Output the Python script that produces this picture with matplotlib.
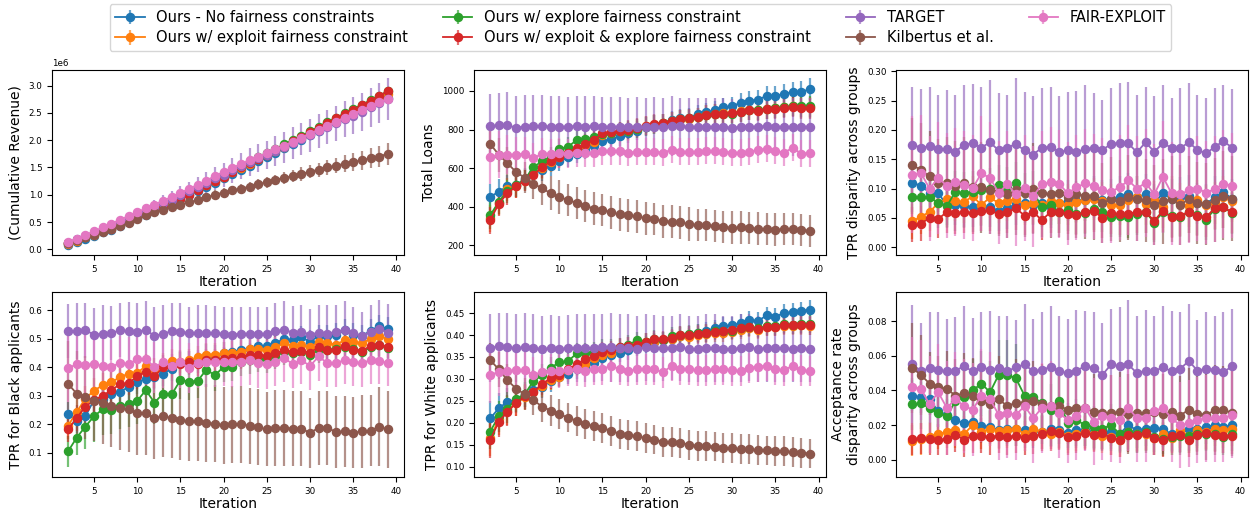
import numpy as np
import matplotlib.pyplot as plt
from matplotlib.colors import to_rgba

iterations = list(range(2, 40))

series = ["nf", "exl", "exr", "both", "tgt", "kil", "fe"]
labels = ["Ours - No fairness constraints",
          "Ours w/ exploit fairness constraint",
          "Ours w/ explore fairness constraint",
          "Ours w/ exploit & explore fairness constraint",
          "TARGET",
          "Kilbertus et al.",
          "FAIR-EXPLOIT"]
colors = ["tab:blue", "tab:orange", "tab:green", "tab:red",
          "tab:purple", "tab:brown", "tab:pink"]

# cumulative revenue, in millions
rev = {
    "nf": [0.08, 0.14, 0.19, 0.25, 0.31, 0.36, 0.43, 0.50, 0.57, 0.63,
           0.70, 0.77, 0.84, 0.92, 0.99, 1.07, 1.14, 1.22, 1.30, 1.38,
           1.46, 1.53, 1.61, 1.69, 1.76, 1.85, 1.93, 2.00, 2.09, 2.17,
           2.25, 2.34, 2.42, 2.50, 2.58, 2.64, 2.71, 2.78],
    "exl": [0.10, 0.16, 0.22, 0.27, 0.33, 0.38, 0.45, 0.52, 0.59, 0.66,
            0.73, 0.80, 0.87, 0.94, 1.02, 1.10, 1.17, 1.25, 1.33, 1.41,
            1.49, 1.57, 1.65, 1.72, 1.80, 1.88, 1.96, 2.04, 2.12, 2.20,
            2.29, 2.37, 2.45, 2.53, 2.61, 2.69, 2.77, 2.85],
    "exr": [0.11, 0.17, 0.23, 0.29, 0.34, 0.40, 0.47, 0.54, 0.61, 0.68,
            0.75, 0.82, 0.89, 0.97, 1.05, 1.13, 1.21, 1.29, 1.37, 1.45,
            1.53, 1.61, 1.69, 1.76, 1.84, 1.92, 2.00, 2.08, 2.16, 2.24,
            2.33, 2.41, 2.49, 2.57, 2.65, 2.73, 2.81, 2.90],
    "both": [0.11, 0.17, 0.22, 0.28, 0.33, 0.38, 0.46, 0.53, 0.60, 0.67,
             0.74, 0.81, 0.88, 0.93, 1.00, 1.09, 1.17, 1.25, 1.33, 1.42,
             1.50, 1.58, 1.66, 1.73, 1.81, 1.89, 1.98, 2.06, 2.14, 2.23,
             2.32, 2.40, 2.48, 2.56, 2.64, 2.72, 2.81, 2.90],
    "tgt": [0.12, 0.18, 0.24, 0.30, 0.36, 0.42, 0.49, 0.56, 0.63, 0.70,
            0.77, 0.84, 0.91, 0.99, 1.06, 1.14, 1.22, 1.30, 1.37, 1.45,
            1.52, 1.60, 1.67, 1.73, 1.80, 1.87, 1.95, 2.02, 2.09, 2.16,
            2.24, 2.31, 2.38, 2.45, 2.52, 2.60, 2.68, 2.75],
    "kil": [0.12, 0.17, 0.22, 0.27, 0.32, 0.37, 0.42, 0.48, 0.55, 0.62,
            0.68, 0.72, 0.77, 0.82, 0.86, 0.90, 0.95, 1.00, 1.04, 1.08,
            1.11, 1.15, 1.19, 1.23, 1.27, 1.31, 1.34, 1.38, 1.42, 1.46,
            1.50, 1.53, 1.57, 1.60, 1.63, 1.67, 1.70, 1.75],
    "fe": [0.13, 0.19, 0.26, 0.33, 0.40, 0.47, 0.54, 0.61, 0.68, 0.75,
           0.82, 0.89, 0.96, 1.03, 1.11, 1.18, 1.26, 1.34, 1.42, 1.49,
           1.56, 1.63, 1.70, 1.76, 1.83, 1.90, 1.97, 2.04, 2.12, 2.19,
           2.26, 2.34, 2.41, 2.48, 2.55, 2.62, 2.69, 2.75],
}
rev_err_ours = [0.03, 0.03, 0.03, 0.03, 0.03, 0.03, 0.03, 0.04, 0.04, 0.04,
                0.04, 0.04, 0.04, 0.04, 0.04, 0.05, 0.05, 0.05, 0.05, 0.05,
                0.05, 0.05, 0.05, 0.05, 0.05, 0.06, 0.06, 0.06, 0.06, 0.06,
                0.06, 0.06, 0.06, 0.06, 0.06, 0.06, 0.07, 0.07]
rev_err = {
    "nf": rev_err_ours, "exl": rev_err_ours, "exr": rev_err_ours, "both": rev_err_ours,
    "tgt": [0.03, 0.04, 0.05, 0.06, 0.07, 0.08, 0.09, 0.11, 0.12, 0.13,
            0.14, 0.15, 0.16, 0.17, 0.18, 0.19, 0.20, 0.21, 0.22, 0.23,
            0.24, 0.25, 0.26, 0.26, 0.27, 0.28, 0.29, 0.30, 0.30, 0.31,
            0.32, 0.32, 0.33, 0.34, 0.35, 0.36, 0.37, 0.38],
    "kil": [0.02, 0.02, 0.03, 0.03, 0.03, 0.04, 0.04, 0.04, 0.05, 0.05,
            0.05, 0.06, 0.06, 0.06, 0.07, 0.07, 0.07, 0.08, 0.08, 0.08,
            0.09, 0.09, 0.10, 0.10, 0.10, 0.11, 0.11, 0.12, 0.12, 0.13,
            0.13, 0.14, 0.15, 0.16, 0.17, 0.18, 0.19, 0.20],
    "fe": [0.03, 0.03, 0.03, 0.03, 0.04, 0.04, 0.04, 0.04, 0.04, 0.04,
           0.05, 0.05, 0.05, 0.05, 0.05, 0.05, 0.05, 0.06, 0.06, 0.06,
           0.06, 0.06, 0.06, 0.06, 0.06, 0.07, 0.07, 0.07, 0.07, 0.07,
           0.07, 0.07, 0.07, 0.08, 0.08, 0.08, 0.08, 0.08],
}

loans = {
    "nf": [450, 478, 505, 510, 545, 575, 590, 610, 635, 655,
           675, 695, 715, 740, 750, 765, 780, 795, 815, 825,
           835, 850, 860, 862, 880, 890, 900, 915, 920, 940,
           950, 955, 975, 975, 985, 995, 995, 1010],
    "exl": [340, 420, 490, 505, 535, 570, 600, 630, 660, 680,
            700, 720, 735, 770, 780, 790, 790, 805, 820, 825,
            835, 845, 855, 855, 865, 875, 880, 885, 885, 895,
            900, 900, 905, 910, 915, 920, 915, 915],
    "exr": [355, 425, 480, 510, 540, 605, 635, 660, 700, 710,
            745, 750, 760, 775, 780, 790, 795, 805, 815, 825,
            835, 845, 855, 860, 865, 875, 880, 880, 880, 890,
            900, 900, 905, 910, 915, 920, 920, 920],
    "both": [330, 415, 470, 505, 535, 565, 605, 635, 655, 680,
             705, 725, 745, 780, 785, 790, 800, 810, 820, 830,
             835, 845, 855, 860, 865, 875, 880, 880, 885, 890,
             900, 895, 905, 905, 910, 915, 910, 910],
    "tgt": [818, 822, 822, 810, 815, 818, 818, 815, 815, 815,
            818, 815, 818, 815, 815, 815, 815, 815, 812, 815,
            815, 818, 818, 815, 815, 815, 815, 815, 808, 815,
            815, 815, 818, 815, 815, 815, 815, 815],
    "kil": [725, 670, 625, 580, 550, 520, 495, 470, 450, 435,
            420, 405, 390, 385, 370, 360, 355, 350, 340, 335,
            325, 322, 318, 310, 305, 305, 300, 295, 290, 292,
            290, 285, 285, 280, 283, 283, 280, 275],
    "fe": [655, 670, 670, 670, 675, 650, 675, 675, 680, 675,
           680, 680, 680, 690, 690, 690, 680, 685, 685, 685,
           680, 695, 685, 685, 685, 690, 690, 685, 680, 680,
           685, 695, 700, 690, 680, 705, 675, 678],
}
loans_err_ours = [70, 65, 60, 58, 55, 55, 55, 52, 52, 50,
                  50, 50, 50, 48, 48, 48, 48, 48, 48, 48,
                  48, 48, 48, 48, 48, 50, 50, 50, 50, 50,
                  50, 50, 52, 52, 52, 52, 55, 55]
loans_err = {
    "nf": loans_err_ours, "exl": loans_err_ours, "exr": loans_err_ours, "both": loans_err_ours,
    "tgt": [168, 170, 175, 165, 165, 162, 162, 158, 158, 155,
            155, 160, 158, 152, 155, 155, 150, 152, 150, 155,
            150, 155, 148, 150, 150, 150, 150, 150, 150, 150,
            150, 150, 150, 150, 150, 150, 150, 150],
    "kil": [90, 88, 85, 82, 80, 82, 85, 88, 86, 85,
            84, 82, 85, 83, 85, 84, 86, 85, 86, 84,
            85, 84, 85, 86, 82, 85, 84, 85, 86, 85,
            84, 85, 83, 85, 84, 84, 82, 82],
    "fe": [140, 120, 100, 90, 85, 80, 80, 78, 78, 75,
           75, 75, 75, 72, 72, 72, 70, 70, 70, 70,
           70, 70, 70, 70, 70, 70, 70, 70, 70, 70,
           70, 70, 70, 70, 70, 70, 70, 70],
}

tpr_gap = {
    "nf": [0.110, 0.105, 0.093, 0.092, 0.072, 0.072, 0.070, 0.069, 0.070, 0.069,
           0.062, 0.066, 0.074, 0.075, 0.072, 0.075, 0.068, 0.075, 0.079, 0.078,
           0.081, 0.085, 0.080, 0.082, 0.086, 0.090, 0.085, 0.090, 0.075, 0.092,
           0.082, 0.085, 0.088, 0.075, 0.074, 0.085, 0.095, 0.082],
    "exl": [0.044, 0.052, 0.060, 0.075, 0.082, 0.079, 0.077, 0.087, 0.072, 0.085,
            0.075, 0.079, 0.082, 0.072, 0.075, 0.072, 0.079, 0.075, 0.072, 0.077,
            0.080, 0.082, 0.078, 0.072, 0.072, 0.080, 0.085, 0.073, 0.080, 0.068,
            0.087, 0.075, 0.070, 0.080, 0.072, 0.075, 0.085, 0.078],
    "exr": [0.086, 0.085, 0.086, 0.075, 0.070, 0.095, 0.092, 0.095, 0.098, 0.100,
            0.106, 0.102, 0.110, 0.093, 0.095, 0.068, 0.072, 0.060, 0.063, 0.057,
            0.058, 0.065, 0.060, 0.052, 0.053, 0.052, 0.056, 0.060, 0.042, 0.060,
            0.053, 0.052, 0.060, 0.055, 0.047, 0.065, 0.068, 0.058],
    "both": [0.038, 0.040, 0.050, 0.048, 0.060, 0.058, 0.060, 0.058, 0.062, 0.063,
             0.056, 0.060, 0.066, 0.054, 0.060, 0.046, 0.060, 0.060, 0.057, 0.055,
             0.060, 0.062, 0.050, 0.058, 0.056, 0.057, 0.060, 0.060, 0.045, 0.062,
             0.051, 0.054, 0.060, 0.054, 0.051, 0.067, 0.068, 0.060],
    "tgt": [0.175, 0.170, 0.172, 0.167, 0.168, 0.163, 0.175, 0.177, 0.170, 0.179,
            0.165, 0.170, 0.176, 0.165, 0.158, 0.170, 0.171, 0.163, 0.165, 0.163,
            0.167, 0.170, 0.166, 0.176, 0.178, 0.177, 0.162, 0.179, 0.163, 0.177,
            0.170, 0.169, 0.179, 0.166, 0.160, 0.171, 0.181, 0.170],
    "kil": [0.140, 0.132, 0.121, 0.109, 0.110, 0.105, 0.110, 0.102, 0.102, 0.098,
            0.095, 0.090, 0.097, 0.092, 0.100, 0.093, 0.090, 0.093, 0.085, 0.090,
            0.088, 0.088, 0.075, 0.082, 0.078, 0.085, 0.082, 0.080, 0.072, 0.078,
            0.082, 0.072, 0.082, 0.075, 0.073, 0.080, 0.088, 0.083],
    "fe": [0.124, 0.127, 0.100, 0.118, 0.105, 0.111, 0.106, 0.101, 0.126, 0.118,
           0.093, 0.107, 0.090, 0.101, 0.087, 0.107, 0.111, 0.108, 0.092, 0.102,
           0.109, 0.104, 0.097, 0.095, 0.102, 0.114, 0.100, 0.110, 0.090, 0.120,
           0.092, 0.090, 0.097, 0.100, 0.093, 0.099, 0.108, 0.105],
}
tpr_gap_err_ours = [0.030, 0.030, 0.032, 0.032, 0.035, 0.035, 0.036, 0.035, 0.034, 0.035,
                    0.034, 0.035, 0.036, 0.034, 0.035, 0.033, 0.035, 0.036, 0.035, 0.035,
                    0.036, 0.036, 0.034, 0.035, 0.035, 0.036, 0.036, 0.035, 0.033, 0.036,
                    0.035, 0.035, 0.036, 0.035, 0.034, 0.036, 0.036, 0.035]
tpr_gap_err = {
    "nf": tpr_gap_err_ours, "exl": tpr_gap_err_ours, "exr": tpr_gap_err_ours, "both": tpr_gap_err_ours,
    "tgt": [0.099, 0.100, 0.101, 0.092, 0.100, 0.097, 0.101, 0.101, 0.103, 0.107,
            0.099, 0.090, 0.112, 0.100, 0.100, 0.101, 0.103, 0.095, 0.100, 0.103,
            0.110, 0.094, 0.086, 0.095, 0.102, 0.105, 0.098, 0.094, 0.095, 0.100,
            0.085, 0.103, 0.102, 0.094, 0.095, 0.101, 0.095, 0.100],
    "kil": [0.080, 0.080, 0.078, 0.076, 0.078, 0.077, 0.078, 0.076, 0.077, 0.075,
            0.076, 0.075, 0.076, 0.075, 0.077, 0.075, 0.074, 0.075, 0.073, 0.075,
            0.074, 0.075, 0.068, 0.072, 0.070, 0.073, 0.072, 0.071, 0.068, 0.072,
            0.074, 0.068, 0.073, 0.070, 0.070, 0.072, 0.076, 0.073],
    "fe": [0.100, 0.098, 0.090, 0.095, 0.090, 0.092, 0.092, 0.090, 0.098, 0.095,
           0.088, 0.092, 0.088, 0.090, 0.086, 0.092, 0.094, 0.092, 0.088, 0.090,
           0.092, 0.090, 0.090, 0.088, 0.090, 0.094, 0.090, 0.092, 0.086, 0.095,
           0.088, 0.086, 0.090, 0.090, 0.088, 0.090, 0.092, 0.090],
}

tpr_black = {
    "nf": [0.235, 0.213, 0.228, 0.285, 0.288, 0.305, 0.315, 0.330, 0.348, 0.360,
           0.365, 0.378, 0.395, 0.415, 0.415, 0.420, 0.440, 0.440, 0.450, 0.455,
           0.460, 0.465, 0.475, 0.475, 0.485, 0.500, 0.495, 0.505, 0.490, 0.510,
           0.510, 0.515, 0.530, 0.515, 0.510, 0.528, 0.545, 0.535],
    "exl": [0.195, 0.243, 0.290, 0.318, 0.337, 0.348, 0.365, 0.378, 0.380, 0.405,
            0.390, 0.410, 0.422, 0.420, 0.425, 0.435, 0.445, 0.445, 0.450, 0.452,
            0.455, 0.465, 0.465, 0.460, 0.470, 0.485, 0.475, 0.480, 0.470, 0.490,
            0.485, 0.480, 0.495, 0.488, 0.485, 0.500, 0.510, 0.500],
    "exr": [0.105, 0.153, 0.192, 0.228, 0.253, 0.250, 0.265, 0.270, 0.282, 0.320,
            0.276, 0.308, 0.305, 0.355, 0.350, 0.352, 0.392, 0.372, 0.402, 0.402,
            0.420, 0.425, 0.430, 0.428, 0.440, 0.455, 0.450, 0.455, 0.445, 0.460,
            0.460, 0.465, 0.470, 0.465, 0.455, 0.470, 0.478, 0.468],
    "both": [0.182, 0.222, 0.262, 0.285, 0.300, 0.320, 0.340, 0.345, 0.368, 0.385,
             0.368, 0.400, 0.405, 0.412, 0.418, 0.412, 0.425, 0.425, 0.430, 0.432,
             0.435, 0.445, 0.445, 0.440, 0.450, 0.460, 0.455, 0.458, 0.452, 0.470,
             0.460, 0.462, 0.475, 0.462, 0.458, 0.475, 0.480, 0.472],
    "tgt": [0.527, 0.527, 0.530, 0.515, 0.517, 0.520, 0.530, 0.527, 0.525, 0.532,
            0.510, 0.518, 0.527, 0.525, 0.520, 0.522, 0.520, 0.520, 0.518, 0.515,
            0.518, 0.518, 0.518, 0.518, 0.527, 0.532, 0.522, 0.525, 0.515, 0.522,
            0.518, 0.525, 0.532, 0.522, 0.510, 0.525, 0.535, 0.522],
    "kil": [0.342, 0.308, 0.295, 0.283, 0.275, 0.265, 0.258, 0.252, 0.240, 0.238,
            0.222, 0.228, 0.222, 0.215, 0.210, 0.210, 0.205, 0.202, 0.197, 0.200,
            0.200, 0.195, 0.190, 0.182, 0.188, 0.188, 0.185, 0.185, 0.170, 0.188,
            0.188, 0.173, 0.175, 0.170, 0.175, 0.178, 0.192, 0.182],
    "fe": [0.398, 0.410, 0.408, 0.412, 0.405, 0.402, 0.415, 0.412, 0.428, 0.430,
           0.400, 0.418, 0.405, 0.418, 0.398, 0.415, 0.420, 0.420, 0.420, 0.418,
           0.420, 0.425, 0.415, 0.410, 0.420, 0.432, 0.412, 0.425, 0.405, 0.438,
           0.415, 0.415, 0.425, 0.418, 0.415, 0.425, 0.422, 0.415],
}
tpr_black_err_ours = [0.045, 0.045, 0.045, 0.044, 0.044, 0.044, 0.043, 0.043, 0.043, 0.042,
                      0.042, 0.042, 0.042, 0.041, 0.041, 0.041, 0.041, 0.040, 0.040, 0.040,
                      0.040, 0.040, 0.040, 0.040, 0.040, 0.040, 0.040, 0.040, 0.040, 0.040,
                      0.040, 0.040, 0.040, 0.040, 0.040, 0.040, 0.040, 0.040]
tpr_black_err = {
    "nf": tpr_black_err_ours, "exl": tpr_black_err_ours, "both": tpr_black_err_ours,
    "exr": [0.055, 0.060, 0.080, 0.090, 0.090, 0.085, 0.080, 0.080, 0.080, 0.075,
            0.075, 0.070, 0.070, 0.065, 0.065, 0.060, 0.060, 0.055, 0.055, 0.050,
            0.050, 0.050, 0.048, 0.048, 0.046, 0.046, 0.045, 0.045, 0.045, 0.045,
            0.044, 0.044, 0.044, 0.044, 0.043, 0.043, 0.043, 0.043],
    "tgt": [0.095, 0.097, 0.097, 0.093, 0.100, 0.095, 0.095, 0.102, 0.100, 0.100,
            0.100, 0.100, 0.098, 0.100, 0.093, 0.095, 0.100, 0.095, 0.093, 0.095,
            0.095, 0.095, 0.095, 0.095, 0.097, 0.102, 0.092, 0.095, 0.090, 0.095,
            0.100, 0.095, 0.100, 0.090, 0.085, 0.095, 0.100, 0.100],
    "kil": [0.150, 0.148, 0.146, 0.142, 0.145, 0.146, 0.148, 0.148, 0.147, 0.146,
            0.145, 0.142, 0.140, 0.140, 0.140, 0.138, 0.138, 0.135, 0.135, 0.135,
            0.135, 0.134, 0.133, 0.130, 0.133, 0.133, 0.132, 0.131, 0.124, 0.130,
            0.130, 0.128, 0.126, 0.125, 0.127, 0.126, 0.138, 0.135],
    "fe": [0.120, 0.110, 0.105, 0.100, 0.098, 0.095, 0.095, 0.095, 0.093, 0.093,
           0.090, 0.090, 0.090, 0.090, 0.088, 0.088, 0.088, 0.088, 0.087, 0.087,
           0.086, 0.086, 0.086, 0.085, 0.085, 0.085, 0.085, 0.085, 0.084, 0.085,
           0.084, 0.084, 0.084, 0.083, 0.083, 0.083, 0.082, 0.082],
}

tpr_white = {
    "nf": [0.210, 0.233, 0.248, 0.252, 0.265, 0.275, 0.282, 0.295, 0.305, 0.312,
           0.322, 0.330, 0.337, 0.348, 0.355, 0.360, 0.365, 0.372, 0.378, 0.385,
           0.388, 0.392, 0.398, 0.400, 0.405, 0.410, 0.415, 0.420, 0.422, 0.428,
           0.435, 0.432, 0.445, 0.442, 0.450, 0.452, 0.455, 0.458],
    "exl": [0.165, 0.208, 0.228, 0.245, 0.258, 0.270, 0.283, 0.298, 0.305, 0.320,
            0.330, 0.335, 0.348, 0.355, 0.360, 0.370, 0.375, 0.378, 0.385, 0.385,
            0.388, 0.392, 0.398, 0.395, 0.400, 0.402, 0.405, 0.405, 0.408, 0.412,
            0.415, 0.412, 0.418, 0.418, 0.420, 0.420, 0.422, 0.420],
    "exr": [0.180, 0.215, 0.232, 0.255, 0.265, 0.295, 0.308, 0.325, 0.338, 0.340,
            0.358, 0.360, 0.362, 0.368, 0.370, 0.372, 0.378, 0.388, 0.385, 0.392,
            0.388, 0.398, 0.400, 0.402, 0.405, 0.405, 0.410, 0.410, 0.410, 0.415,
            0.418, 0.415, 0.420, 0.420, 0.425, 0.422, 0.425, 0.425],
    "both": [0.160, 0.203, 0.225, 0.245, 0.260, 0.270, 0.288, 0.302, 0.308, 0.322,
             0.333, 0.345, 0.352, 0.362, 0.365, 0.372, 0.375, 0.378, 0.385, 0.390,
             0.390, 0.393, 0.400, 0.400, 0.403, 0.405, 0.408, 0.410, 0.412, 0.415,
             0.418, 0.413, 0.418, 0.418, 0.423, 0.422, 0.424, 0.422],
    "tgt": [0.370, 0.375, 0.372, 0.370, 0.372, 0.370, 0.368, 0.370, 0.368, 0.370,
            0.370, 0.370, 0.370, 0.372, 0.372, 0.370, 0.370, 0.368, 0.372, 0.370,
            0.370, 0.370, 0.372, 0.368, 0.368, 0.370, 0.370, 0.368, 0.368, 0.370,
            0.372, 0.368, 0.370, 0.370, 0.370, 0.368, 0.370, 0.368],
    "kil": [0.343, 0.322, 0.297, 0.278, 0.265, 0.252, 0.237, 0.228, 0.220, 0.212,
            0.205, 0.198, 0.192, 0.188, 0.182, 0.175, 0.172, 0.170, 0.165, 0.162,
            0.157, 0.156, 0.155, 0.150, 0.148, 0.148, 0.146, 0.143, 0.142, 0.140,
            0.140, 0.138, 0.137, 0.135, 0.135, 0.133, 0.132, 0.130],
    "fe": [0.310, 0.315, 0.318, 0.320, 0.320, 0.310, 0.315, 0.318, 0.318, 0.320,
           0.322, 0.318, 0.322, 0.323, 0.330, 0.322, 0.318, 0.322, 0.322, 0.322,
           0.315, 0.330, 0.322, 0.322, 0.320, 0.320, 0.322, 0.322, 0.320, 0.318,
           0.325, 0.328, 0.330, 0.322, 0.320, 0.330, 0.320, 0.318],
}
tpr_white_err_ours = [0.040, 0.035, 0.032, 0.030, 0.028, 0.026, 0.025, 0.024, 0.024, 0.023,
                      0.023, 0.022, 0.022, 0.022, 0.021, 0.021, 0.021, 0.020, 0.020, 0.020,
                      0.020, 0.020, 0.020, 0.020, 0.020, 0.020, 0.020, 0.020, 0.020, 0.020,
                      0.020, 0.020, 0.020, 0.020, 0.020, 0.020, 0.021, 0.021]
tpr_white_err = {
    "nf": tpr_white_err_ours, "exl": tpr_white_err_ours, "exr": tpr_white_err_ours, "both": tpr_white_err_ours,
    "tgt": [0.077, 0.076, 0.078, 0.077, 0.078, 0.077, 0.076, 0.076, 0.076, 0.076,
            0.077, 0.077, 0.077, 0.077, 0.078, 0.077, 0.077, 0.076, 0.076, 0.076,
            0.074, 0.073, 0.077, 0.076, 0.076, 0.077, 0.077, 0.076, 0.076, 0.077,
            0.077, 0.076, 0.077, 0.077, 0.077, 0.076, 0.076, 0.076],
    "kil": [0.040, 0.040, 0.038, 0.036, 0.036, 0.035, 0.035, 0.035, 0.034, 0.034,
            0.034, 0.034, 0.034, 0.034, 0.034, 0.034, 0.034, 0.034, 0.034, 0.034,
            0.034, 0.034, 0.034, 0.034, 0.034, 0.034, 0.034, 0.034, 0.034, 0.034,
            0.034, 0.034, 0.034, 0.034, 0.034, 0.034, 0.034, 0.034],
    "fe": [0.065, 0.055, 0.048, 0.045, 0.042, 0.040, 0.040, 0.038, 0.038, 0.037,
           0.037, 0.036, 0.036, 0.036, 0.036, 0.035, 0.035, 0.035, 0.035, 0.035,
           0.035, 0.035, 0.035, 0.035, 0.035, 0.035, 0.035, 0.035, 0.035, 0.035,
           0.035, 0.035, 0.035, 0.035, 0.035, 0.035, 0.035, 0.035],
}

acc_gap = {
    "nf": [0.037, 0.036, 0.035, 0.028, 0.026, 0.023, 0.021, 0.022, 0.0195, 0.019,
           0.017, 0.018, 0.018, 0.017, 0.017, 0.016, 0.0175, 0.017, 0.0155, 0.017,
           0.017, 0.016, 0.016, 0.016, 0.015, 0.020, 0.017, 0.018, 0.0185, 0.0175,
           0.015, 0.0145, 0.018, 0.018, 0.019, 0.020, 0.019, 0.020],
    "exl": [0.011, 0.012, 0.013, 0.015, 0.016, 0.017, 0.015, 0.020, 0.016, 0.018,
            0.0165, 0.017, 0.018, 0.015, 0.018, 0.016, 0.015, 0.016, 0.014, 0.015,
            0.016, 0.015, 0.014, 0.013, 0.0115, 0.016, 0.015, 0.015, 0.0125, 0.015,
            0.0125, 0.017, 0.014, 0.017, 0.016, 0.018, 0.017, 0.018],
    "exr": [0.032, 0.0325, 0.030, 0.027, 0.025, 0.034, 0.036, 0.040, 0.044, 0.039,
            0.049, 0.049, 0.047, 0.037, 0.036, 0.033, 0.029, 0.034, 0.021, 0.023,
            0.020, 0.019, 0.018, 0.020, 0.015, 0.016, 0.015, 0.016, 0.013, 0.012,
            0.013, 0.014, 0.014, 0.015, 0.015, 0.015, 0.013, 0.015],
    "both": [0.012, 0.0125, 0.012, 0.0115, 0.012, 0.0145, 0.0115, 0.014, 0.014, 0.013,
             0.014, 0.013, 0.014, 0.0125, 0.0135, 0.015, 0.0165, 0.0155, 0.013, 0.014,
             0.0155, 0.0145, 0.0155, 0.0125, 0.0115, 0.0145, 0.0145, 0.0155, 0.0125, 0.0115,
             0.014, 0.0145, 0.0115, 0.0145, 0.0155, 0.0145, 0.014, 0.0135],
    "tgt": [0.0555, 0.051, 0.053, 0.052, 0.051, 0.0515, 0.054, 0.051, 0.0535, 0.052,
            0.053, 0.051, 0.0535, 0.055, 0.051, 0.052, 0.0535, 0.051, 0.050, 0.0515,
            0.054, 0.053, 0.049, 0.055, 0.054, 0.055, 0.050, 0.0515, 0.051, 0.0535,
            0.051, 0.0525, 0.057, 0.0515, 0.0525, 0.052, 0.0505, 0.054],
    "kil": [0.053, 0.049, 0.044, 0.042, 0.041, 0.037, 0.0385, 0.037, 0.034, 0.032,
            0.035, 0.031, 0.033, 0.033, 0.034, 0.032, 0.031, 0.031, 0.029, 0.030,
            0.030, 0.0275, 0.027, 0.027, 0.0275, 0.0265, 0.027, 0.027, 0.0275, 0.0265,
            0.0275, 0.0255, 0.029, 0.0265, 0.026, 0.0285, 0.029, 0.027],
    "fe": [0.042, 0.041, 0.032, 0.039, 0.030, 0.035, 0.031, 0.029, 0.037, 0.035,
           0.026, 0.027, 0.026, 0.031, 0.024, 0.030, 0.031, 0.027, 0.023, 0.025,
           0.030, 0.022, 0.025, 0.024, 0.023, 0.030, 0.024, 0.024, 0.028, 0.030,
           0.024, 0.020, 0.021, 0.023, 0.024, 0.024, 0.024, 0.026],
}
acc_gap_err_ours = [0.009, 0.009, 0.009, 0.009, 0.009, 0.010, 0.010, 0.010, 0.010, 0.010,
                    0.010, 0.010, 0.010, 0.010, 0.010, 0.010, 0.010, 0.010, 0.010, 0.010,
                    0.010, 0.010, 0.010, 0.010, 0.010, 0.010, 0.010, 0.010, 0.010, 0.010,
                    0.010, 0.010, 0.010, 0.010, 0.010, 0.010, 0.010, 0.010]
acc_gap_err = {
    "nf": acc_gap_err_ours, "exl": acc_gap_err_ours, "both": acc_gap_err_ours,
    "exr": [0.015, 0.015, 0.015, 0.015, 0.015, 0.016, 0.017, 0.018, 0.019, 0.018,
            0.020, 0.020, 0.020, 0.017, 0.017, 0.016, 0.015, 0.016, 0.012, 0.012,
            0.012, 0.012, 0.012, 0.012, 0.011, 0.011, 0.011, 0.011, 0.010, 0.010,
            0.010, 0.010, 0.010, 0.010, 0.010, 0.010, 0.010, 0.010],
    "tgt": [0.034, 0.028, 0.032, 0.033, 0.030, 0.031, 0.035, 0.031, 0.032, 0.034,
            0.030, 0.032, 0.027, 0.035, 0.030, 0.033, 0.035, 0.032, 0.031, 0.035,
            0.032, 0.032, 0.030, 0.032, 0.034, 0.037, 0.033, 0.035, 0.032, 0.035,
            0.035, 0.033, 0.033, 0.029, 0.033, 0.031, 0.035, 0.033],
    "kil": [0.026, 0.023, 0.018, 0.018, 0.022, 0.021, 0.023, 0.022, 0.020, 0.020,
            0.025, 0.022, 0.025, 0.022, 0.023, 0.023, 0.023, 0.022, 0.022, 0.022,
            0.022, 0.022, 0.022, 0.022, 0.023, 0.023, 0.023, 0.023, 0.023, 0.023,
            0.023, 0.023, 0.024, 0.024, 0.026, 0.026, 0.025, 0.025],
    "fe": [0.029, 0.028, 0.028, 0.028, 0.027, 0.027, 0.027, 0.027, 0.027, 0.027,
           0.026, 0.026, 0.026, 0.026, 0.026, 0.026, 0.026, 0.026, 0.025, 0.025,
           0.025, 0.025, 0.025, 0.025, 0.025, 0.025, 0.025, 0.025, 0.025, 0.025,
           0.025, 0.025, 0.025, 0.025, 0.025, 0.025, 0.025, 0.025],
}

panels = [
    (rev, rev_err, "(Cumulative Revenue)", 1e6),
    (loans, loans_err, "Total Loans", 1),
    (tpr_gap, tpr_gap_err, "TPR disparity across groups", 1),
    (tpr_black, tpr_black_err, "TPR for Black applicants", 1),
    (tpr_white, tpr_white_err, "TPR for White applicants", 1),
    (acc_gap, acc_gap_err, "Acceptance rate\ndisparity across groups", 1),
]

fig, axes = plt.subplots(2, 3, figsize=(12.51, 5.15), dpi=100)
fig.subplots_adjust(left=0.0416, right=0.9976, top=0.864, bottom=0.074,
                    wspace=0.2, hspace=0.2)

for ax, (means, errs, ylab, scale) in zip(axes.flat, panels):
    for key, lab, col in zip(series, labels, colors):
        y = np.array(means[key]) * scale
        e = np.array(errs[key]) * scale
        ax.errorbar(iterations, y, yerr=e, fmt='-o', color=col,
                    ecolor=to_rgba(col, 0.65), elinewidth=1.6,
                    ms=5.8, lw=1.3, label=lab)
    ax.set_xlabel("Iteration", fontsize=10, labelpad=1)
    ax.set_ylabel(ylab, fontsize=10)
    ax.tick_params(labelsize=6.3)
    ax.yaxis.get_offset_text().set_fontsize(6.3)

handles, labs = axes[0, 0].get_legend_handles_labels()
fig.legend(handles, labs, loc="upper center", bbox_to_anchor=(0.512, 1.0),
           ncol=4, fontsize=10.5, handlelength=2.0, columnspacing=2.4,
           labelspacing=0.35, borderaxespad=0.3)

plt.savefig("out.png", dpi=100)
